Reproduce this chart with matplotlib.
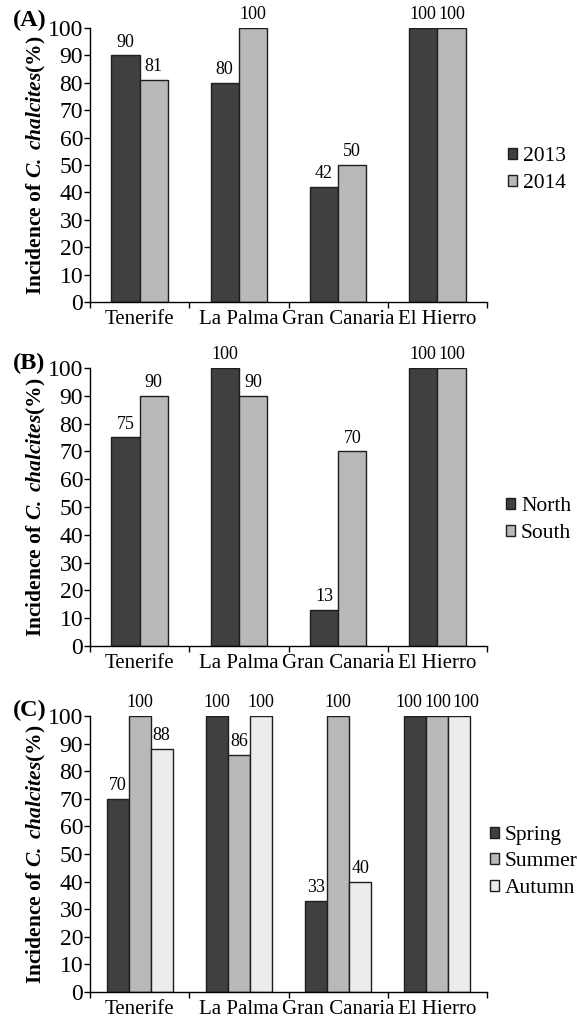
import matplotlib
matplotlib.use("Agg")
import matplotlib.pyplot as plt
import numpy as np
from matplotlib.patches import Patch
from matplotlib.transforms import offset_copy

plt.rcParams['font.family'] = ['Liberation Serif', 'DejaVu Serif']
plt.rcParams['mathtext.fontset'] = 'custom'
plt.rcParams['mathtext.rm'] = 'Liberation Serif'
plt.rcParams['mathtext.it'] = 'Liberation Serif:italic'
plt.rcParams['mathtext.bf'] = 'Liberation Serif:bold'
plt.rcParams['mathtext.bfit'] = 'Liberation Serif:italic:bold'

islands = ["Tenerife", "La Palma", "Gran Canaria", "El Hierro"]

# Panel A
years = ["2013", "2014"]
vals_2013 = [90, 80, 42, 100]
vals_2014 = [81, 100, 50, 100]

# Panel B
regions = ["North", "South"]
vals_north = [75, 100, 13, 100]
vals_south = [90, 90, 70, 100]

# Panel C
seasons = ["Spring", "Summer", "Autumn"]
vals_spring = [70, 100, 33, 100]
vals_summer = [100, 86, 100, 100]
vals_autumn = [88, 100, 40, 100]

dark = "#404040"
mid = "#b9b9b9"
light = "#ececec"
edge = "#1e1e1e"

fig = plt.figure(figsize=(5.77, 10.21), dpi=100)
W, H = 577, 1021

def make_axes(top_px, bottom_px):
    x0, x1 = 90, 487
    return fig.add_axes([x0 / W, 1 - bottom_px / H, (x1 - x0) / W, (bottom_px - top_px) / H])

panels = [
    ("(A)", make_axes(28, 302), [vals_2013, vals_2014], years, [dark, mid], 0.285, (508, 170), 8),
    ("(B)", make_axes(368, 646), [vals_north, vals_south], regions, [dark, mid], 0.285, (506, 520), 5),
    ("(C)", make_axes(716, 992), [vals_spring, vals_summer, vals_autumn], seasons, [dark, mid, light], 0.222, (490, 862), 6),
]

x = np.arange(len(islands))
for label, ax, series, names, colors, bw, leg_pos, lab_up in panels:
    n = len(series)
    for i, (vals, name, col) in enumerate(zip(series, names, colors)):
        offs = (i - (n - 1) / 2) * bw
        bars = ax.bar(x + offs, vals, width=bw, color=col, edgecolor=edge,
                      linewidth=1.0, label=name)
        for j, (b, v) in enumerate(zip(bars, vals)):
            # spread crowded equal-height labels in 3-bar groups
            shift = 0.0
            if n == 3 and all(s[j] == v for s in series):
                shift = (i - 1) * 6
            ax.annotate(str(v), (b.get_x() + b.get_width() / 2, v),
                        xytext=(shift * 0.72, 3.5), textcoords="offset points",
                        ha="center", va="bottom", fontsize=13, annotation_clip=False)
    ax.set_xlim(-0.5, len(islands) - 0.5)
    ax.set_ylim(0, 100)
    ax.set_yticks(np.arange(0, 101, 10))
    ax.tick_params(axis="y", labelsize=17, length=4, width=1, pad=1)
    ax.set_xticks(x)
    ax.set_xticklabels(islands, fontsize=15)
    ax.tick_params(axis="x", length=0, pad=6)
    ax.set_xticks(np.arange(-0.5, len(islands), 1), minor=True)
    ax.tick_params(axis="x", which="minor", length=4, width=1)
    for s in ["top", "right"]:
        ax.spines[s].set_visible(False)
    for s in ["left", "bottom"]:
        ax.spines[s].set_linewidth(1.0)
    ax.set_ylabel(r"Incidence of $\mathbfit{C.\ chalcites}$(%)", fontsize=15.5,
                  fontweight="bold")
    ax.yaxis.set_label_coords(-42 / 397, 0.5)
    tr = offset_copy(ax.transAxes, fig=fig, x=0, y=lab_up * 0.72, units="points")
    ax.text(-77 / 397, 1.0, label, transform=tr, fontsize=17.5,
            fontweight="bold", ha="left", va="center")
    handles = [Patch(facecolor=c, edgecolor=edge, linewidth=1.0) for c in colors]
    fig.legend(handles, names, loc="center left",
               bbox_to_anchor=(leg_pos[0] / W, 1 - leg_pos[1] / H),
               frameon=False, fontsize=15.5, handlelength=0.4, handleheight=0.4,
               handletextpad=0.3, labelspacing=0.35, borderpad=0, borderaxespad=0)

fig.savefig("out.png", dpi=100)
